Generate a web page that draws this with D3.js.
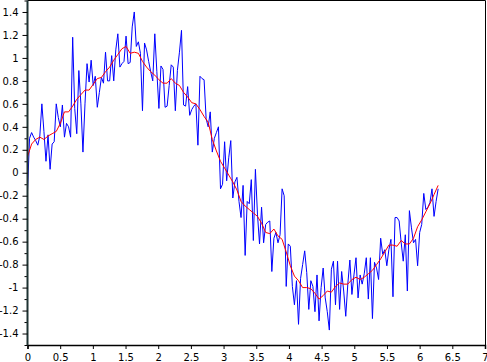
<!DOCTYPE html>
<html>
<head>
<meta charset="utf-8">
<script src="https://cdn.jsdelivr.net/npm/d3@7"></script>
<style>
  body { margin: 0; background: #fff; }
  svg { display: block; }
  .tick text { font-family: "DejaVu Sans", sans-serif; font-size: 10px; fill: #000; }
</style>
</head>
<body>
<script>
// noisy samples (blue), t from 0 to 2*pi
const noisyValues = [
  -0.16, 0.30, 0.35, 0.31, 0.28, 0.24, 0.32, 0.60, 0.36, 0.10,
  0.33, 0.03, 0.25, 0.27, 0.60, 0.48, 0.40, 0.59, 0.31, 0.43,
  0.40, 0.31, 1.18, 0.56, 0.34, 0.89, 0.60, 0.18, 0.60, 0.95,
  0.79, 0.98, 0.76, 0.84, 0.57, 0.70, 0.83, 0.78, 1.05, 0.80,
  0.80, 1.02, 0.80, 1.07, 1.21, 0.92, 0.95, 0.97, 1.19, 0.95,
  0.96, 1.27, 1.40, 1.10, 1.14, 1.04, 0.54, 1.13, 1.07, 0.97,
  0.88, 0.80, 1.21, 0.88, 0.56, 0.93, 0.90, 0.57, 0.58, 0.76,
  0.94, 0.92, 0.54, 0.89, 1.05, 1.24, 0.59, 0.58, 0.75, 0.50,
  0.55, 0.58, 0.60, 0.24, 0.84, 0.82, 0.81, 0.47, 0.40, 0.53,
  0.18, 0.30, 0.35, 0.40, -0.14, -0.10, 0.27, -0.07, 0.13, 0.28,
  -0.22, -0.08, -0.04, -0.25, -0.39, -0.11, -0.72, -0.25, -0.27, -0.06,
  -0.59, 0.03, -0.36, -0.62, -0.30, -0.61, -0.45, -0.43, -0.42, -0.86,
  -0.57, -0.52, -0.61, -0.54, -0.14, -0.20, -0.99, -0.62, -0.64, -0.99,
  -1.15, -0.94, -1.32, -0.92, -0.80, -0.68, -0.87, -1.19, -0.94, -0.99,
  -1.21, -0.89, -1.29, -1.00, -0.83, -1.09, -1.21, -1.37, -0.84, -0.77,
  -1.15, -0.77, -1.19, -0.86, -1.03, -1.25, -0.97, -0.76, -1.06, -0.89,
  -0.74, -1.09, -0.89, -0.97, -0.88, -0.74, -1.10, -0.74, -1.27, -0.78,
  -0.83, -0.93, -0.57, -0.71, -0.67, -0.81, -0.67, -0.58, -1.08, -0.39,
  -0.39, -0.42, -0.61, -0.77, -0.54, -1.03, -0.33, -0.48, -0.61, -0.58,
  -0.81, -0.52, -0.45, -0.18, -0.32, -0.30, -0.26, -0.14, -0.38, -0.25,
  -0.14
];

// smoothed curve (red), every second sample
const smoothValues = [
  0.14, 0.25, 0.29, 0.31, 0.29, 0.32, 0.34, 0.36, 0.43, 0.53,
  0.53, 0.58, 0.64, 0.68, 0.72, 0.72, 0.77, 0.82, 0.83, 0.88,
  0.92, 0.98, 1.03, 1.08, 1.10, 1.04, 1.05, 1.04, 0.97, 0.92,
  0.88, 0.85, 0.81, 0.78, 0.78, 0.82, 0.78, 0.76, 0.70, 0.66,
  0.61, 0.60, 0.55, 0.49, 0.44, 0.29, 0.19, 0.10, 0.04, -0.02,
  -0.08, -0.15, -0.25, -0.29, -0.32, -0.35, -0.38, -0.44, -0.52, -0.53,
  -0.49, -0.55, -0.58, -0.69, -0.81, -0.90, -0.94, -1.00, -1.00, -1.01,
  -1.05, -1.10, -1.07, -1.03, -1.04, -0.99, -0.96, -0.97, -0.97, -0.93,
  -0.91, -0.93, -0.91, -0.88, -0.85, -0.80, -0.75, -0.69, -0.63, -0.63,
  -0.64, -0.59, -0.62, -0.62, -0.57, -0.47, -0.41, -0.34, -0.27, -0.19,
  -0.11
];

const tEnd = 2 * Math.PI;

const xTicks = [0, 0.5, 1, 1.5, 2, 2.5, 3, 3.5, 4, 4.5, 5, 5.5, 6, 6.5, 7];
const xTickLabels = ["0", "0.5", "1", "1.5", "2", "2.5", "3", "3.5", "4", "4.5", "5", "5.5", "6", "6.5", "7"];
const yTicks = [1.4, 1.2, 1, 0.8, 0.6, 0.4, 0.2, 0, -0.2, -0.4, -0.6, -0.8, -1, -1.2, -1.4];
const yTickLabels = ["1.4", "1.2", "1", "0.8", "0.6", "0.4", "0.2", "0", "-0.2", "-0.4", "-0.6", "-0.8", "-1", "-1.2", "-1.4"];
const yMinorTicks = [1.5, 1.3, 1.1, 0.9, 0.7, 0.5, 0.3, 0.1, -0.1, -0.3, -0.5, -0.7, -0.9, -1.1, -1.3, -1.5];

(function() {
  let svgContainer = "";

  window.onload = function() {
    svgContainer = d3.select('body')
      .append('svg')
        .attr('width', 487)
        .attr('height', 362);
    drawChart();
  }

  function drawChart() {
    let left = 27.5, right = 485.5, top = 0.5, bottom = 345;

    let xScale = d3.scaleLinear().domain([0, 7]).range([left, right - 0.5]);
    let yScale = d3.scaleLinear().domain([-1.5, 1.5]).range([bottom, top]);

    // frame: top and right sides
    svgContainer.append('path')
      .attr('d', `M${left},${top}H${right}V${bottom}`)
      .attr('fill', 'none')
      .attr('stroke', '#000')
      .attr('stroke-width', 1);

    // lines
    let noisyStep = tEnd / (noisyValues.length - 1);
    let smoothStep = tEnd / (smoothValues.length - 1);

    let line = d3.line()
      .x((d) => xScale(d[0]))
      .y((d) => yScale(d[1]));

    svgContainer.append('path')
      .datum(noisyValues.map((v, i) => [i * noisyStep, v]))
      .attr('d', line)
      .attr('fill', 'none')
      .attr('stroke', '#0000ff')
      .attr('stroke-width', 1);

    svgContainer.append('path')
      .datum(smoothValues.map((v, i) => [i * smoothStep, v]))
      .attr('d', line)
      .attr('fill', 'none')
      .attr('stroke', '#ff0000')
      .attr('stroke-width', 1);

    // x axis at bottom
    let xAxis = d3.axisBottom(xScale)
      .tickValues(xTicks)
      .tickSize(4)
      .tickPadding(5)
      .tickFormat((d, i) => xTickLabels[i]);
    let gx = svgContainer.append('g')
      .attr('transform', `translate(0, ${bottom})`)
      .call(xAxis);
    gx.select('.domain').attr('stroke', '#000').attr('stroke-width', 1.5);
    gx.selectAll('.tick text').attr('dy', '0.71em');

    // y axis minor ticks
    let yMinor = d3.axisLeft(yScale)
      .tickValues(yMinorTicks)
      .tickSize(3)
      .tickFormat('');
    let gm = svgContainer.append('g')
      .attr('transform', `translate(${left}, 0)`)
      .call(yMinor);
    gm.select('.domain').remove();

    // y axis at left
    let yAxis = d3.axisLeft(yScale)
      .tickValues(yTicks)
      .tickSize(5)
      .tickPadding(4)
      .tickFormat((d, i) => yTickLabels[i]);
    let gy = svgContainer.append('g')
      .attr('transform', `translate(${left}, 0)`)
      .call(yAxis);
    gy.select('.domain')
      .attr('d', `M0,${top}V${bottom}`)
      .attr('stroke', '#1e3333')
      .attr('stroke-width', 2);
  }

})();
</script>
</body>
</html>
